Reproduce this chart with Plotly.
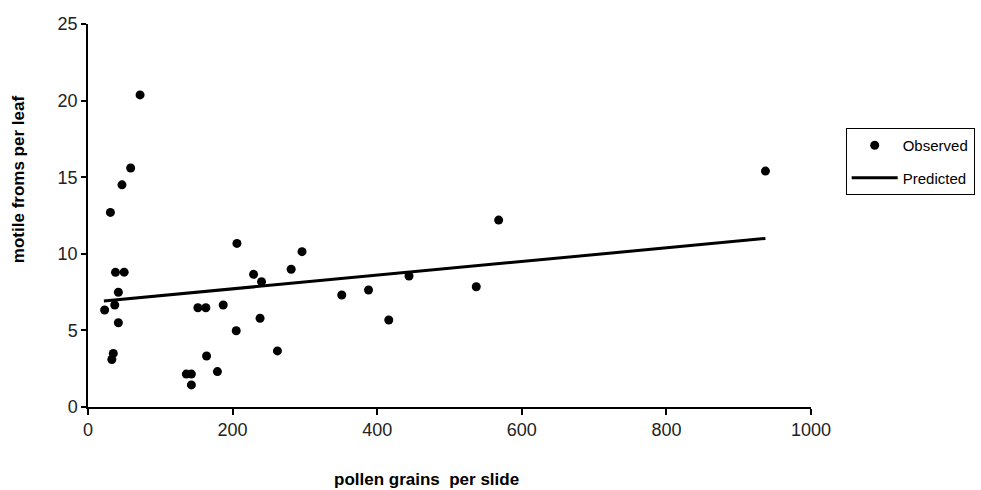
import plotly.graph_objects as go

pollen = [23, 31, 33, 35, 37, 38, 42, 42, 47, 50, 59, 72, 136, 143, 143, 152, 163, 164,
          179, 187, 205, 206, 229, 238, 240, 262, 281, 296, 351, 388, 416, 444, 537, 568, 937]
motile = [6.33, 12.7, 3.1, 3.5, 6.66, 8.79, 7.49, 5.5, 14.5, 8.8, 15.6, 20.37, 2.15, 2.15,
          1.44, 6.48, 6.48, 3.33, 2.31, 6.66, 4.98, 10.68, 8.66, 5.79, 8.18, 3.66, 8.99,
          10.14, 7.31, 7.64, 5.68, 8.55, 7.85, 12.2, 15.4]

# Predicted line endpoints
pred_x = [22, 937]
pred_y = [6.92, 11.0]

x_ticks = [0, 200, 400, 600, 800, 1000]
y_ticks = [0, 5, 10, 15, 20, 25]

x_title = "pollen grains  per slide"
y_title = "motile froms per leaf"

FONT = "Liberation Sans, Arial"

fig = go.Figure()
fig.add_trace(go.Scatter(
    x=pollen, y=motile, mode="markers", name="Observed", legendgroup="a",
    marker=dict(color="black", size=9),
))
fig.add_trace(go.Scatter(
    x=pred_x, y=pred_y, mode="lines", name="Predicted", legendgroup="b",
    line=dict(color="black", width=3),
))

fig.update_layout(
    width=981, height=490,
    paper_bgcolor="white", plot_bgcolor="white",
    margin=dict(l=88, r=170, t=24, b=83, autoexpand=False),
    font=dict(family=FONT, size=15, color="black"),
    showlegend=True,
    legend=dict(
        x=1.048, y=0.7285, xanchor="left", yanchor="top",
        bordercolor="black", borderwidth=1, bgcolor="white",
        font=dict(family=FONT, size=15, color="black"),
        tracegroupgap=10, itemwidth=46,
    ),
    xaxis=dict(
        range=[0, 1000], tickvals=x_ticks, showgrid=False, zeroline=False,
        showline=True, linecolor="black", linewidth=1.5,
        ticks="outside", ticklen=6, tickcolor="black", tickwidth=1.5,
        tickfont=dict(family=FONT, size=18, color="#222"), automargin=False,
    ),
    yaxis=dict(
        range=[0, 25], tickvals=y_ticks, showgrid=False, zeroline=False,
        showline=True, linecolor="black", linewidth=1.5,
        ticks="outside", ticklen=5, tickcolor="black", tickwidth=1.5,
        tickfont=dict(family=FONT, size=18, color="#222"), automargin=False,
    ),
    annotations=[
        dict(text="<b>" + x_title + "</b>", xref="paper", yref="paper",
             x=0.4675, y=-0.19, xanchor="center", yanchor="middle",
             showarrow=False, font=dict(family=FONT, size=17, color="black")),
        dict(text="<b>" + y_title + "</b>", xref="paper", yref="paper",
             x=-0.0968, y=0.595, xanchor="center", yanchor="middle", textangle=-90,
             showarrow=False, font=dict(family=FONT, size=17, color="black")),
    ],
)

fig.write_html("out.html")
